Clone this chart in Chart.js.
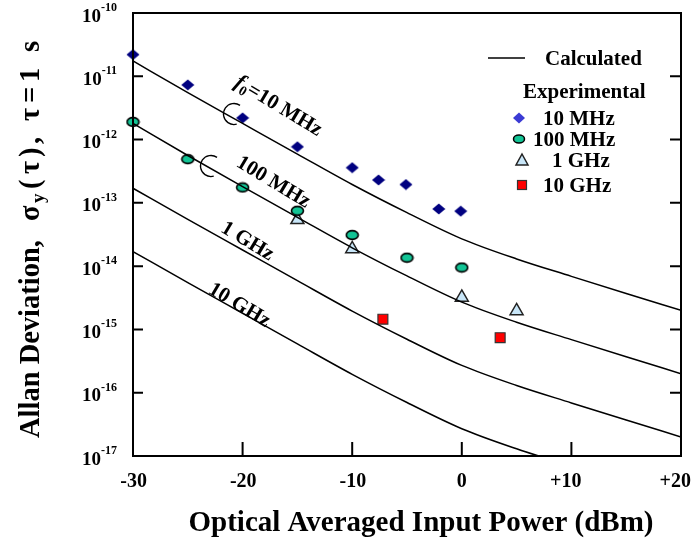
<!DOCTYPE html>
<html>
<head>
<meta charset="utf-8">
<script src="https://cdn.jsdelivr.net/npm/chart.js@4.4.0/dist/chart.umd.min.js"></script>
<style>
  html, body { margin: 0; padding: 0; background: #fff; }
  #wrap { width: 692px; height: 539px; }
</style>
</head>
<body>
<div id="wrap"><canvas id="myChart" width="692" height="539"></canvas></div>
<script>
// DATOS: potencia óptica (dBm) y desviación de Allan

// eje x de las curvas calculadas
const powerGrid = [-30, -25, -20, -15, -10, -5, 0, 5, 10, 15, 20];

// curvas calculadas
const calc10MHz  = [1.75e-11, 5.5e-12, 1.8e-12, 5.9e-13, 1.95e-13, 7.0e-14, 2.7e-14, 1.3e-14, 6.9e-15, 3.7e-15, 2.0e-15];
const calc100MHz = [1.8e-12, 5.6e-13, 1.8e-13, 5.9e-14, 1.95e-14, 7.0e-15, 2.7e-15, 1.3e-15, 6.9e-16, 3.7e-16, 2.0e-16];
const calc1GHz   = [1.7e-13, 5.5e-14, 1.8e-14, 5.9e-15, 1.95e-15, 7.0e-16, 2.7e-16, 1.3e-16, 6.9e-17, 3.7e-17, 2.0e-17];
const calc10GHz  = [1.7e-14, 5.5e-15, 1.8e-15, 5.9e-16, 1.95e-16, 7.0e-17, 2.7e-17, 1.3e-17, 6.9e-18];

// puntos experimentales
const exp10MHzX  = [-30, -25, -20, -15, -10, -7.6, -5.1, -2.1, -0.1];
const exp10MHzY  = [2.2e-11, 7.3e-12, 2.2e-12, 7.7e-13, 3.6e-13, 2.3e-13, 1.95e-13, 8.0e-14, 7.4e-14];
const exp100MHzX = [-30, -25, -20, -15, -10, -5, 0];
const exp100MHzY = [1.9e-12, 4.9e-13, 1.75e-13, 7.5e-14, 3.1e-14, 1.36e-14, 9.5e-15];
const exp1GHzX   = [-15, -10, 0, 5];
const exp1GHzY   = [5.4e-14, 1.87e-14, 3.2e-15, 1.96e-15];
const exp10GHzX  = [-7.2, 3.5];
const exp10GHzY  = [1.45e-15, 7.4e-16];

// ticks
const xTicks = [-30, -20, -10, 0, 10, 20];
const yDecades = [-17, -16, -15, -14, -13, -12, -11, -10];

const SERIF = "'Liberation Serif', 'Times New Roman', serif";

function pts(xs, ys) {
    return ys.map((y, i) => ({ x: xs[i], y: y }));
}

// marcadores
function makeDiamond(color) {
    const c = document.createElement('canvas');
    c.width = 14; c.height = 12;
    const g = c.getContext('2d');
    g.fillStyle = color;
    g.beginPath();
    g.moveTo(7, 0.5); g.lineTo(13.5, 6); g.lineTo(7, 11.5); g.lineTo(0.5, 6);
    g.closePath(); g.fill();
    return c;
}
function makeEllipse() {
    const c = document.createElement('canvas');
    c.width = 15; c.height = 12;
    const g = c.getContext('2d');
    g.fillStyle = '#12c495';
    g.strokeStyle = '#000';
    g.lineWidth = 1.6;
    g.beginPath();
    g.ellipse(7.5, 6, 6, 4.4, 0, 0, Math.PI * 2);
    g.fill(); g.stroke();
    return c;
}

const diamondImg = makeDiamond('#000080');
const ellipseImg = makeEllipse();

function calcLine(data) {
    return {
        data: data,
        showLine: true,
        borderColor: '#000',
        borderWidth: 1.5,
        pointRadius: 0,
        cubicInterpolationMode: 'monotone',
        fill: false
    };
}

function drawRuns(ctx, runs, cx, cy, angle, base) {
    ctx.save();
    ctx.translate(cx, cy);
    ctx.rotate(angle);
    ctx.textAlign = 'left';
    ctx.textBaseline = 'alphabetic';
    let total = 0;
    runs.forEach(r => { ctx.font = r.font; r.w = ctx.measureText(r.t).width; total += r.w; });
    let x = -total / 2;
    runs.forEach(r => {
        ctx.font = r.font;
        ctx.fillText(r.t, x, base + (r.dy || 0));
        x += r.w;
    });
    ctx.restore();
}

// título vertical: cada trozo empieza en la y de pantalla indicada
const yTitleParts = [
    ['Allan Deviation,', 438, 28.5, 0],
    ['σ', 221, 28.5, 0],
    ['y', 203, 19, 5],
    ['(', 189, 28.5, 0],
    ['τ', 174, 28.5, 0],
    [')', 157, 28.5, 0],
    [',', 144, 28.5, 0],
    ['τ', 121, 28.5, 0],
    ['=', 103, 28.5, 0],
    ['1', 82, 28.5, 0],
    ['s', 52, 28.5, 0]
];

const decorPlugin = {
    id: 'decor',
    afterDraw(chart) {
        const ctx = chart.ctx;
        const a = chart.chartArea;
        const xs = chart.scales.x, ys = chart.scales.y;
        ctx.save();
        ctx.fillStyle = '#000';
        ctx.strokeStyle = '#000';

        // marco
        ctx.lineWidth = 2;
        ctx.strokeRect(a.left, a.top, a.right - a.left, a.bottom - a.top);

        // ticks interiores
        ctx.beginPath();
        yDecades.forEach(d => {
            const py = ys.getPixelForValue(Math.pow(10, d));
            ctx.moveTo(a.left, py); ctx.lineTo(a.left + 10, py);
            ctx.moveTo(a.right, py); ctx.lineTo(a.right - 11, py);
        });
        xTicks.forEach(v => {
            const px = xs.getPixelForValue(v);
            ctx.moveTo(px, a.bottom); ctx.lineTo(px, a.bottom - 14);
        });
        ctx.stroke();

        // etiquetas eje x (el "+" queda colgando a la izquierda)
        ctx.font = 'bold 20px ' + SERIF;
        ctx.textBaseline = 'alphabetic';
        xTicks.forEach(v => {
            const px = xs.getPixelForValue(v);
            const num = String(Math.abs(v));
            const w = ctx.measureText(num).width;
            ctx.textAlign = 'left';
            ctx.fillText(num, px - w / 2 + (v < 0 ? 4 : 0), 487);
            ctx.textAlign = 'right';
            if (v > 0) ctx.fillText('+', px - w / 2, 487);
            if (v < 0) ctx.fillText('-', px - w / 2 + 4, 487);
        });

        // etiquetas eje y: 10^n
        yDecades.forEach(d => {
            const py = ys.getPixelForValue(Math.pow(10, d));
            ctx.font = 'bold 12px ' + SERIF;
            ctx.textAlign = 'right';
            const exp = String(d);
            ctx.fillText(exp, 117, py - 2);
            const ew = ctx.measureText(exp).width;
            ctx.font = 'bold 19px ' + SERIF;
            ctx.fillText('10', 117 - ew, py + 8.5);
        });

        // título eje y
        ctx.save();
        ctx.translate(39, 0);
        ctx.rotate(-Math.PI / 2);
        ctx.textAlign = 'left';
        yTitleParts.forEach(p => {
            ctx.font = 'bold ' + p[2] + 'px ' + SERIF;
            ctx.fillText(p[0], -p[1], p[3]);
        });
        ctx.restore();

        // título eje x
        ctx.font = 'bold 29px ' + SERIF;
        ctx.textAlign = 'center';
        ctx.fillText('Optical Averaged Input Power (dBm)', 421, 531);

        // etiquetas de curvas
        const ang = 31 * Math.PI / 180;
        drawRuns(ctx, [
            { t: 'f', font: 'italic bold 22px ' + SERIF },
            { t: '0', font: 'bold 14px ' + SERIF, dy: 4 },
            { t: '=10 MHz', font: 'bold 21px ' + SERIF }
        ], 279, 105, ang, 7);
        drawRuns(ctx, [{ t: '100 MHz', font: 'bold 21px ' + SERIF }], 274, 181, ang, 7);
        drawRuns(ctx, [{ t: '1 GHz', font: 'bold 21px ' + SERIF }], 248, 240, ang, 7);
        drawRuns(ctx, [{ t: '10 GHz', font: 'bold 21px ' + SERIF }], 240, 304, ang, 7);

        // corchetes
        ctx.lineWidth = 1.3;
        ctx.beginPath();
        ctx.arc(234, 114, 10.5, -55 * Math.PI / 180, 75 * Math.PI / 180, true);
        ctx.stroke();
        ctx.beginPath();
        ctx.arc(211, 166, 10.5, -55 * Math.PI / 180, 75 * Math.PI / 180, true);
        ctx.stroke();

        // leyenda
        ctx.lineWidth = 1.5;
        ctx.beginPath();
        ctx.moveTo(488, 58); ctx.lineTo(525, 58);
        ctx.stroke();
        ctx.font = 'bold 21px ' + SERIF;
        ctx.textAlign = 'left';
        ctx.fillText('Calculated', 545, 65);
        ctx.fillText('Experimental', 523, 98);
        ctx.fillText('10 MHz', 543, 125);
        ctx.fillText('100 MHz', 533, 146);
        ctx.fillText('1 GHz', 552, 167);
        ctx.fillText('10 GHz', 543, 192);

        // diamante
        ctx.fillStyle = '#3b3bd4';
        ctx.beginPath();
        ctx.moveTo(519, 112.5); ctx.lineTo(525, 118); ctx.lineTo(519, 123.5); ctx.lineTo(513, 118);
        ctx.closePath(); ctx.fill();
        // elipse
        ctx.fillStyle = '#12c495';
        ctx.beginPath();
        ctx.ellipse(519, 139, 5.5, 4, 0, 0, Math.PI * 2);
        ctx.fill(); ctx.stroke();
        // triángulo
        ctx.fillStyle = '#c8e6f8';
        ctx.strokeStyle = '#222';
        ctx.beginPath();
        ctx.moveTo(522, 154); ctx.lineTo(528, 165); ctx.lineTo(516, 165);
        ctx.closePath(); ctx.fill(); ctx.stroke();
        // cuadrado
        ctx.fillStyle = '#ff0000';
        ctx.strokeStyle = '#333';
        ctx.lineWidth = 1.2;
        ctx.fillRect(517.5, 180.5, 9, 9);
        ctx.strokeRect(517.5, 180.5, 9, 9);

        ctx.restore();
    }
};

const ctx = document.getElementById('myChart');

const myChart = new Chart(ctx, {
    type: 'scatter',
    data: {
        datasets: [
            calcLine(pts(powerGrid, calc10MHz)),
            calcLine(pts(powerGrid, calc100MHz)),
            calcLine(pts(powerGrid, calc1GHz)),
            calcLine(pts(powerGrid, calc10GHz)),
            {
                label: '10 MHz',
                data: pts(exp10MHzX, exp10MHzY),
                pointStyle: diamondImg,
                clip: false
            },
            {
                label: '100 MHz',
                data: pts(exp100MHzX, exp100MHzY),
                pointStyle: ellipseImg,
                clip: false
            },
            {
                label: '1 GHz',
                data: pts(exp1GHzX, exp1GHzY),
                pointStyle: 'triangle',
                pointRadius: 7.5,
                backgroundColor: '#c8e6f8',
                borderColor: '#222',
                borderWidth: 1.5,
                clip: false
            },
            {
                label: '10 GHz',
                data: pts(exp10GHzX, exp10GHzY),
                pointStyle: 'rect',
                pointRadius: 7,
                backgroundColor: '#ff0000',
                borderColor: '#333',
                borderWidth: 1.2,
                clip: false
            }
        ]
    },
    options: {
        responsive: false,
        animation: false,
        layout: { padding: { top: 13, right: 11, left: 0, bottom: 0 } },
        plugins: {
            legend: { display: false },
            tooltip: { enabled: false }
        },
        scales: {
            x: {
                type: 'linear',
                min: -30,
                max: 20,
                grid: { display: false, drawTicks: false },
                border: { display: false },
                ticks: { display: false, stepSize: 10 },
                afterFit: s => { s.height = 83; s.paddingLeft = 0; s.paddingRight = 0; }
            },
            y: {
                type: 'logarithmic',
                min: 1e-17,
                max: 1e-10,
                grid: { display: false, drawTicks: false },
                border: { display: false },
                ticks: { display: false },
                afterFit: s => { s.width = 133; s.paddingTop = 0; s.paddingBottom = 0; }
            }
        }
    },
    plugins: [decorPlugin]
});
</script>
</body>
</html>
